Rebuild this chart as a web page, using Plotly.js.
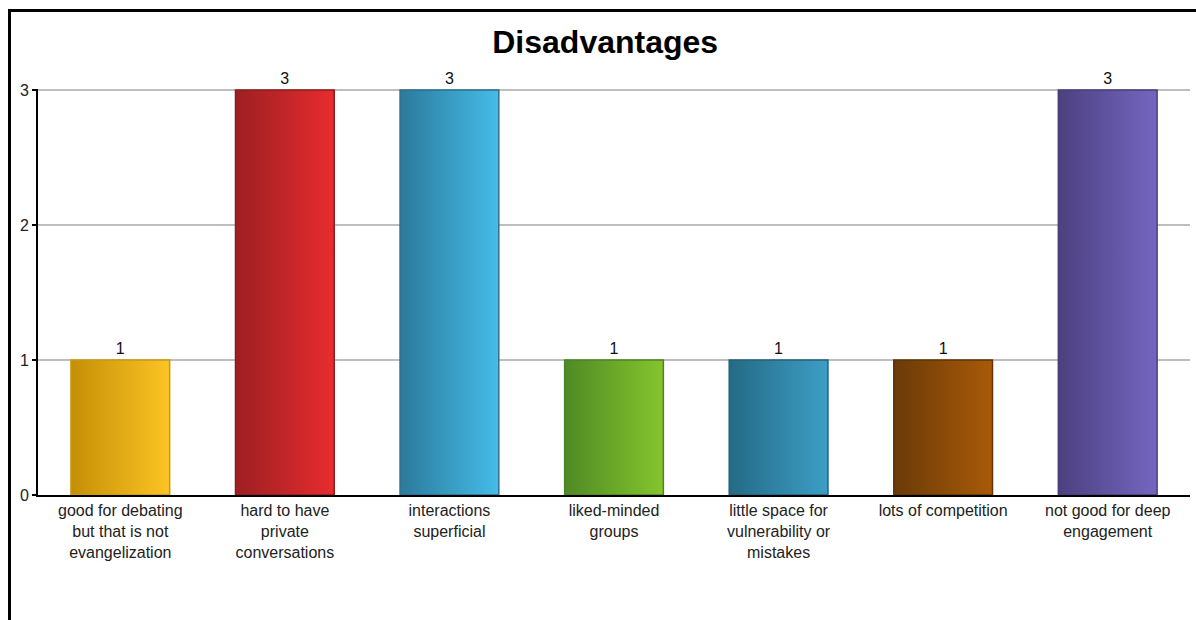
<!DOCTYPE html>
<html>
<head>
<meta charset="utf-8">
<script src="https://cdn.plot.ly/plotly-3.0.1.min.js"></script>
<style>
  html, body { margin: 0; padding: 0; background: #fff; }
  #chart { position: absolute; left: 0; top: 0; width: 1196px; height: 620px; }
  #frame { position: absolute; left: 8px; top: 9px; width: 1188px; height: 611px;
           border-top: 3px solid #000; border-left: 3px solid #000; box-sizing: border-box;
           pointer-events: none; }
</style>
</head>
<body>
<div id="chart"></div>
<div id="frame"></div>
<script>
const categories = [
  "good for debating<br>but that is not<br>evangelization",
  "hard to have<br>private<br>conversations",
  "interactions<br>superficial",
  "liked-minded<br>groups",
  "little space for<br>vulnerability or<br>mistakes",
  "lots of competition",
  "not good for deep<br>engagement"
];
const counts = [1, 3, 3, 1, 1, 1, 3];
const colorsDark  = ["#C48F06", "#9C1F22", "#2B7A9C", "#4F8A25", "#246A85", "#6A3A08", "#4C4080"];
const colorsLight = ["#FCC424", "#E82C2E", "#45BCE8", "#85C52C", "#3D9EC6", "#A95A08", "#7466C0"];
const colorsEdge  = ["#C89A12", "#8E1C1E", "#2A7090", "#4E8425", "#24627C", "#603406", "#4A3E78"];
const yTicks = [0, 1, 2, 3];

const trace = {
  type: "bar",
  x: categories,
  y: counts,
  text: counts.map(String),
  textposition: "outside",
  cliponaxis: false,
  constraintext: "none",
  textfont: { family: "Liberation Sans, Arial, sans-serif", size: 16, color: "#111" },
  marker: {
    color: colorsLight,
    line: { color: colorsEdge, width: 1.5 }
  },
  hoverinfo: "x+y"
};

const layout = {
  width: 1196,
  height: 620,
  margin: { l: 38, r: 6, t: 89, b: 125 },
  paper_bgcolor: "rgba(0,0,0,0)",
  plot_bgcolor: "rgba(0,0,0,0)",
  bargap: 0.4,
  showlegend: false,
  font: { family: "Liberation Sans, Arial, sans-serif", color: "#222" },
  title: {
    text: "<b>Disadvantages</b>",
    font: { family: "Liberation Sans, Arial, sans-serif", size: 32, color: "#000" },
    x: 0.506, xanchor: "center",
    y: 0.932, yanchor: "middle"
  },
  xaxis: {
    type: "category",
    showline: true, linecolor: "#000", linewidth: 2,
    ticks: "", showgrid: false, zeroline: false,
    tickfont: { size: 16, color: "#222" },
    fixedrange: true
  },
  yaxis: {
    range: [0, 3.008],
    tickvals: yTicks,
    ticktext: yTicks.map(String),
    showline: true, linecolor: "#000", linewidth: 2,
    ticks: "outside", ticklen: 4, tickcolor: "#000", tickwidth: 1.5,
    showgrid: true, gridcolor: "#BEBEBE", gridwidth: 2,
    zeroline: false,
    tickfont: { size: 16, color: "#222" },
    ticklabelstandoff: 0,
    fixedrange: true
  }
};

Plotly.newPlot("chart", [trace], layout, { displayModeBar: false, staticPlot: true }).then(function (gd) {
  const svgNS = "http://www.w3.org/2000/svg";
  const svg = gd.querySelector("svg.main-svg");
  let defs = svg.querySelector("defs");
  if (!defs) { defs = document.createElementNS(svgNS, "defs"); svg.insertBefore(defs, svg.firstChild); }
  const paths = gd.querySelectorAll(".barlayer .point path");
  paths.forEach(function (p, i) {
    const g = document.createElementNS(svgNS, "linearGradient");
    g.setAttribute("id", "barGrad" + i);
    g.setAttribute("x1", "0"); g.setAttribute("y1", "0");
    g.setAttribute("x2", "1"); g.setAttribute("y2", "0");
    const s1 = document.createElementNS(svgNS, "stop");
    s1.setAttribute("offset", "0"); s1.setAttribute("stop-color", colorsDark[i]);
    const s2 = document.createElementNS(svgNS, "stop");
    s2.setAttribute("offset", "1"); s2.setAttribute("stop-color", colorsLight[i]);
    g.appendChild(s1); g.appendChild(s2);
    defs.appendChild(g);
    p.style.fill = "url(#barGrad" + i + ")";
  });
});
</script>
</body>
</html>
